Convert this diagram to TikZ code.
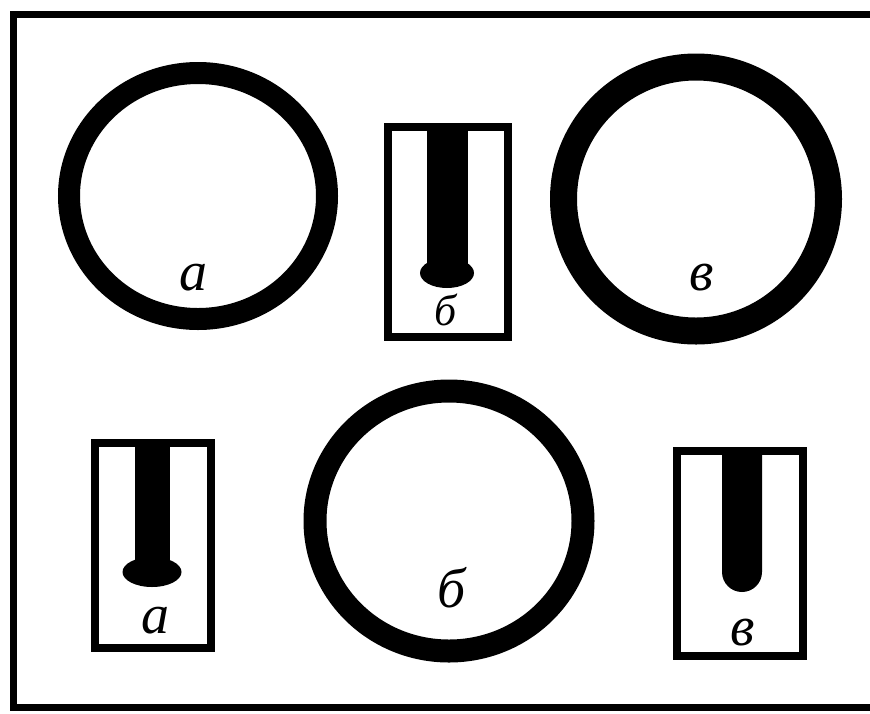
\documentclass[tikz,border=0pt]{standalone}
\usepackage{fontspec}
\setmainfont{Liberation Serif}
\begin{document}
\begin{tikzpicture}[x=1pt,y=-1pt,
  ring/.style={draw=black},
  box/.style={draw=black,line width=8pt},
  tube/.style={fill=black},
  lbl/.style={inner sep=0pt,anchor=base,font=\fontsize{56}{56}\selectfont\itshape},
  small/.style={font=\fontsize{44}{44}\selectfont\itshape}]
\useasboundingbox (0,0) rectangle (870,713);
% frame
\draw[line width=7pt] (870,14) -- (13.5,14) -- (13.5,707) -- (870,707);
% top-left ring a
\draw[ring,line width=22pt] (198,196) ellipse [x radius=129, y radius=123];
\node[lbl] (la) at (193,290) {а};
% top-middle box b
\draw[box] (388,127) rectangle (508,337);
\fill[tube] (427,131) -- (427,268) -- (468,268) -- (468,131) -- cycle;
\fill[tube] (447,273) ellipse [x radius=27, y radius=15];
\node[lbl,small] (lb1) at (446,325) {б};
% top-right ring v
\draw[ring,line width=27pt] (696,199) ellipse [x radius=132.5, y radius=132];
\node[lbl] (lv1) at (702,290) {в};
% bottom-left box a
\draw[box] (95,443) rectangle (211,648);
\fill[tube] (135,446) -- (135,568) -- (170,568) -- (170,446) -- cycle;
\fill[tube] (152,572) ellipse [x radius=29.5, y radius=15];
\node[lbl] (la2) at (155,633) {а};
% bottom-middle ring b
\draw[ring,line width=23pt] (449,521) ellipse [x radius=134, y radius=130];
\node[lbl] (lb2) at (452,607) {б};
% bottom-right box v
\draw[box] (677,451) rectangle (803,656);
\fill[tube] (722,454) -- (722,572) arc[start angle=180,end angle=0,x radius=20,y radius=20] -- (762,454) -- cycle;
\node[lbl] (lv2) at (743,645) {в};
\end{tikzpicture}
\end{document}
